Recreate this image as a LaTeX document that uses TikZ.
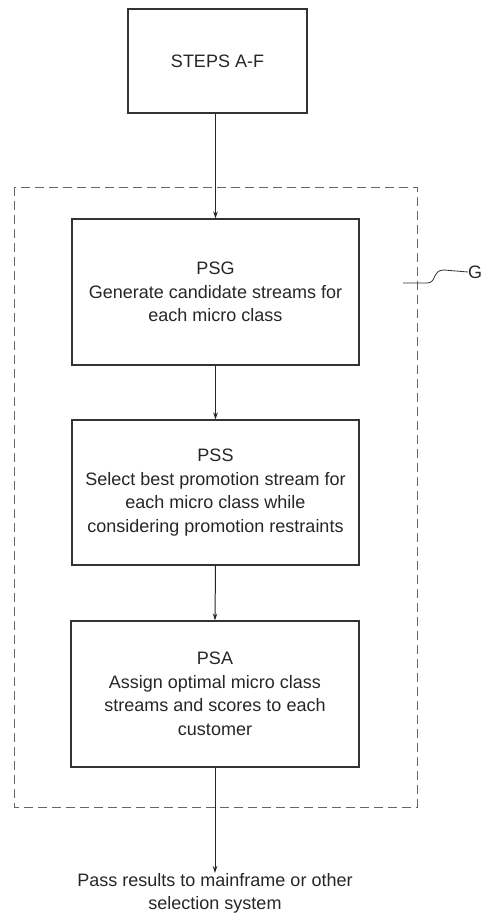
\documentclass[tikz,border=0pt]{standalone}
\usepackage{fontspec}
\setmainfont{Liberation Sans}
\usetikzlibrary{arrows.meta}
\begin{document}
\begin{tikzpicture}[x=1pt,y=-1pt,
  every node/.style={font=\fontsize{18}{23.5}\selectfont, text=black!85},
  procbox/.style={draw=black!80, line width=1.1pt, rectangle, align=center, inner sep=0pt},
  flow/.style={draw=black!85, line width=1pt, -{Stealth[length=7pt,width=4.5pt]}},
  groupbox/.style={draw=black!60, line width=0.9pt, dash pattern=on 9pt off 5pt}]
\useasboundingbox (0,0) rectangle (487,916);

% process steps
\node[procbox, minimum width=179pt, minimum height=104pt] (steps) at (217.5,61) {STEPS A-F};
\node[procbox, minimum width=287pt, minimum height=146pt] (psg) at (215.5,292)
  {PSG\\Generate candidate streams for\\each micro class};
\node[procbox, minimum width=287pt, minimum height=145pt] (pss) at (215.5,492.5)
  {PSS\\Select best promotion stream for\\each micro class while\\considering promotion restraints};
\node[procbox, minimum width=288pt, minimum height=146pt] (psa) at (215,694)
  {PSA\\Assign optimal micro class\\streams and scores to each\\customer};
\node[align=center, anchor=north, inner sep=0pt] (out) at (215,873)
  {Pass results to mainframe or other\\selection system};

% dashed group G
\draw[groupbox] (14,187) rectangle (417,807);
\node[anchor=west, inner sep=0pt] (glabel) at (468,272) {G};
\coordinate (gtail) at (403,283);
\draw[black!80, line width=0.8pt] (gtail) -- (427,283)
  .. controls (437,283) and (432,270) .. (444,270) -- (glabel.west);

% connectors
\draw[flow] (steps.south -| psg.north) -- (psg.north);
\draw[flow] (psg.south) -- (pss.north);
\draw[flow] (pss.south) -- (psa.north);
\draw[flow] (psa.south) -- (out.north);
\end{tikzpicture}
\end{document}
